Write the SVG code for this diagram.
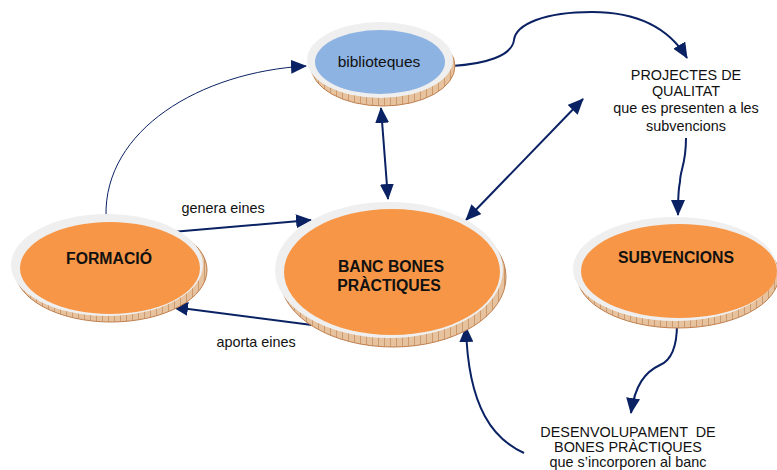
<svg xmlns="http://www.w3.org/2000/svg" width="777" height="470" viewBox="0 0 777 470">
<defs>
<style>
.ring{fill:#efefef}
.base{fill:#e2b58a;stroke:#b87a44;stroke-width:1}
.or{fill:#f79646}
.bl{fill:#8db3e2}
.t{font-family:"Liberation Sans",Arial,sans-serif;font-size:14.4px;fill:#111;text-anchor:middle}
.b{font-family:"Liberation Sans",Arial,sans-serif;font-size:15.8px;font-weight:bold;fill:#111;text-anchor:middle}
.c{fill:none;stroke:#0a2263;stroke-width:2}
.thin{stroke-width:1}
</style>
<pattern id="hatch" width="6" height="6" patternUnits="userSpaceOnUse">
<rect width="6" height="6" fill="#e6c29e"/>
<path d="M0,0 L0,6" stroke="#b5733e" stroke-width="1"/>
</pattern>
<marker id="ah" markerUnits="userSpaceOnUse" viewBox="0 0 16 14" markerWidth="16" markerHeight="14" refX="15" refY="7" orient="auto-start-reverse">
<path d="M0,0 L16,7 L0,14 z" fill="#0a2263"/>
</marker>
</defs>

<g id="connectors">
<path class="c thin" d="M106,216 C104,130 200,72 306,66" marker-end="url(#ah)"/>
<path class="c" d="M172,232 L311,220" marker-end="url(#ah)"/>
<path class="c" d="M312,325 L173,307" marker-end="url(#ah)"/>
<path class="c" d="M381,108 L388,199" marker-start="url(#ah)" marker-end="url(#ah)"/>
<path class="c" d="M466,220 L583,99" marker-start="url(#ah)" marker-end="url(#ah)"/>
<path class="c" d="M452,66 C485,64 512,56 514,40 C516,24 545,12 592,12 C640,12 670,30 687,58" marker-end="url(#ah)"/>
<path class="c" d="M686,138 C686,165 680,170 680,182 C678,190 678,200 678,215" marker-end="url(#ah)"/>
<path class="c" d="M677,324 C677,345 672,360 660,365 C645,372 635,385 631,413" marker-end="url(#ah)"/>
<path class="c" d="M524,453 C495,440 468,410 466,327" marker-end="url(#ah)"/>
</g>

<g id="biblioteques">
<ellipse cx="383" cy="66" rx="72" ry="40" fill="url(#hatch)" stroke="#c08050"/>
<ellipse class="ring" cx="380" cy="60" rx="73" ry="38"/>
<ellipse class="bl" cx="380" cy="62" rx="65" ry="32"/>
<text class="t" x="379" y="67" style="font-size:15.5px">biblioteques</text>
</g>

<g id="formacio">
<ellipse cx="111" cy="270" rx="96" ry="52" fill="url(#hatch)" stroke="#c08050"/>
<ellipse class="ring" cx="107" cy="265" rx="96" ry="51"/>
<ellipse class="or" cx="110" cy="268" rx="90" ry="46"/>
<text class="b" x="109" y="264">FORMACIÓ</text>
</g>

<g id="banc">
<ellipse cx="393" cy="277" rx="113" ry="70" fill="url(#hatch)" stroke="#c08050"/>
<ellipse class="ring" cx="389" cy="270" rx="114" ry="68"/>
<ellipse class="or" cx="392" cy="272" rx="108" ry="63"/>
<text class="b" x="391" y="272">BANC BONES</text>
<text class="b" x="389" y="291">PRÀCTIQUES</text>
</g>

<g id="subvencions">
<ellipse cx="678" cy="275" rx="101" ry="53" fill="url(#hatch)" stroke="#c08050"/>
<ellipse class="ring" cx="675" cy="269" rx="102" ry="52"/>
<ellipse class="or" cx="679" cy="271" rx="98" ry="47"/>
<text class="b" x="676" y="263">SUBVENCIONS</text>
</g>

<g id="projectes">
<text class="t" x="686" y="80">PROJECTES DE</text>
<text class="t" x="686" y="96">QUALITAT</text>
<text class="t" x="686" y="113">que es presenten a les</text>
<text class="t" x="686" y="131">subvencions</text>
</g>

<g id="desenvolupament">
<text class="t" x="628" y="437" xml:space="preserve">DESENVOLUPAMENT  DE</text>
<text class="t" x="628" y="452">BONES PRÀCTIQUES</text>
<text class="t" x="628" y="467">que s’incorporen al banc</text>
</g>

<g id="labels">
<text class="t" x="223" y="213">genera eines</text>
<text class="t" x="256" y="347">aporta eines</text>
</g>
</svg>
